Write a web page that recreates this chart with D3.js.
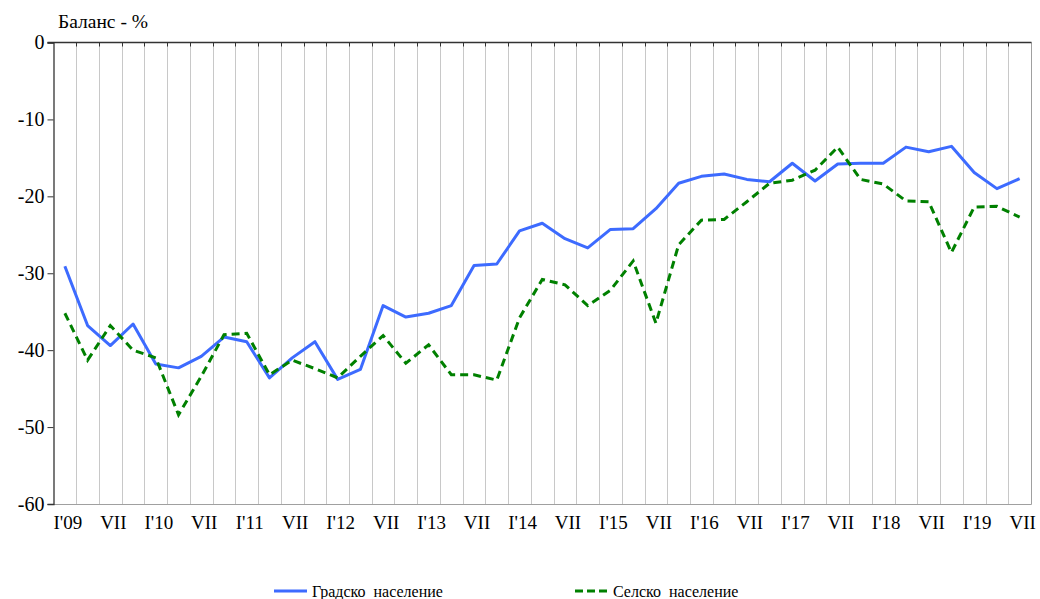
<!DOCTYPE html>
<html>
<head>
<meta charset="utf-8">
<script src="https://cdn.jsdelivr.net/npm/d3@7"></script>
<style>
  body { margin: 0; background: #fff; }
</style>
</head>
<body>
<svg id="chart" width="1040" height="599"></svg>
<script>
// quarters I'09 ... VII'19
const quarters = [];
for (let yr = 9; yr <= 19; yr++) {
  ["I", "IV", "VII", "X"].forEach(q => quarters.push(q + "'" + String(yr).padStart(2, "0")));
}
quarters.splice(43);

const urban = [-29.1, -36.8, -39.4, -36.6, -41.8, -42.3, -40.8, -38.3, -38.9, -43.6,
  -41.0, -38.9, -43.8, -42.5, -34.2, -35.7, -35.2, -34.2, -29.0, -28.8,
  -24.5, -23.5, -25.5, -26.7, -24.3, -24.2, -21.6, -18.3, -17.4, -17.1,
  -17.8, -18.1, -15.7, -18.0, -15.8, -15.7, -15.7, -13.6, -14.2, -13.5,
  -16.9, -19.0, -17.7];

const rural = [-35.2, -41.3, -36.8, -40.0, -41.0, -48.4, -43.4, -38.0, -37.8, -43.2,
  -41.3, -42.4, -43.6, -40.8, -38.1, -41.7, -39.3, -43.2, -43.2, -43.9,
  -35.8, -30.8, -31.5, -34.2, -32.2, -28.4, -36.5, -26.3, -23.1, -23.0,
  -20.7, -18.3, -17.9, -16.6, -13.6, -17.8, -18.4, -20.6, -20.7, -27.3,
  -21.4, -21.3, -22.7];

const yTicks = [0, -10, -20, -30, -40, -50, -60];
const seriesNames = ["Градско  население", "Селско  население"];

const FONT = "'Liberation Serif', 'Times New Roman', serif";
const margin = {left: 53.5, right: 1031, top: 42.5, bottom: 504};
const svg = d3.select("#chart").attr("font-family", FONT);

const x = d3.scaleBand().domain(quarters).range([margin.left, margin.right]);
const y = d3.scaleLinear().domain([-60, 0]).range([margin.bottom, margin.top]);

// label for a quarter: year for I, "VII" for July, nothing otherwise
function qLabel(q) {
  const [p, yr] = q.split("'");
  if (p === "I") return "I'" + yr;
  if (p === "VII") return "VII";
  return "";
}

// vertical gridlines at category boundaries
svg.append("g")
  .selectAll("line")
  .data(quarters.slice(1))
  .join("line")
    .attr("x1", d => Math.round(x(d)) + 0.5)
    .attr("x2", d => Math.round(x(d)) + 0.5)
    .attr("y1", margin.top)
    .attr("y2", margin.bottom)
    .attr("stroke", "#c8c8c8")
    .attr("stroke-width", 1);

// plot border (bottom + right)
svg.append("path")
  .attr("d", `M${margin.left},${margin.bottom + 0.5}H${margin.right + 0.5}V${margin.top}`)
  .attr("fill", "none")
  .attr("stroke", "#a0a0a0")
  .attr("stroke-width", 1);

// top category axis (crosses at 0) with small inward ticks
svg.append("line")
  .attr("x1", margin.left - 6).attr("x2", margin.right + 0.5)
  .attr("y1", margin.top).attr("y2", margin.top)
  .attr("stroke", "#333").attr("stroke-width", 1.3);
svg.append("g")
  .selectAll("line")
  .data(quarters.slice(1))
  .join("line")
    .attr("x1", d => Math.round(x(d)) + 0.5)
    .attr("x2", d => Math.round(x(d)) + 0.5)
    .attr("y1", margin.top)
    .attr("y2", margin.top + 4)
    .attr("stroke", "#333");

// y axis
const yAxis = svg.append("g")
  .attr("transform", `translate(${margin.left},0)`)
  .call(d3.axisLeft(y).tickValues(yTicks).tickSize(6).tickPadding(3).tickFormat(d => String(d)));
yAxis.attr("font-family", FONT).attr("font-size", 20);
yAxis.select(".domain").attr("stroke", "#333").attr("stroke-width", 1.3);
yAxis.selectAll(".tick line").attr("stroke", "#333");
yAxis.selectAll("text").attr("fill", "#000");

// x labels at the bottom
const xAxis = svg.append("g")
  .attr("transform", `translate(0,${margin.bottom})`)
  .call(d3.axisBottom(x).tickSize(0).tickPadding(12).tickFormat(qLabel));
xAxis.attr("font-family", FONT).attr("font-size", 19);
xAxis.select(".domain").remove();
xAxis.selectAll("text")
  .attr("fill", "#000")
  .attr("dx", "3");

// title
svg.append("text")
  .attr("x", 58).attr("y", 28)
  .attr("font-family", FONT)
  .attr("font-size", 19.5)
  .text("Баланс - %");

const cx = d => x(d) + x.bandwidth() / 2;

const line = d3.line()
  .x((d, i) => cx(quarters[i]))
  .y(d => y(d));

svg.append("path")
  .datum(urban)
  .attr("d", line)
  .attr("fill", "none")
  .attr("stroke", "#3d6bff")
  .attr("stroke-width", 3)
  .attr("stroke-linejoin", "round");

svg.append("path")
  .datum(rural)
  .attr("d", line)
  .attr("fill", "none")
  .attr("stroke", "#008000")
  .attr("stroke-width", 3)
  .attr("stroke-dasharray", "8,5");

// legend
const legend = [
  {name: seriesNames[0], color: "#3d6bff", dash: null, x: 274},
  {name: seriesNames[1], color: "#008000", dash: "8,4", x: 575}
];
const lg = svg.append("g").selectAll("g").data(legend).join("g")
  .attr("transform", d => `translate(${d.x},591)`);
lg.append("line")
  .attr("x1", 0).attr("x2", 33).attr("y1", 0).attr("y2", 0)
  .attr("stroke", d => d.color)
  .attr("stroke-width", 3)
  .attr("stroke-dasharray", d => d.dash);
lg.append("text")
  .attr("x", 38).attr("y", 5.5)
  .attr("font-family", FONT)
  .attr("font-size", 16)
  .attr("fill", "#000")
  .attr("xml:space", "preserve")
  .style("white-space", "pre")
  .text(d => d.name);
</script>
</body>
</html>
